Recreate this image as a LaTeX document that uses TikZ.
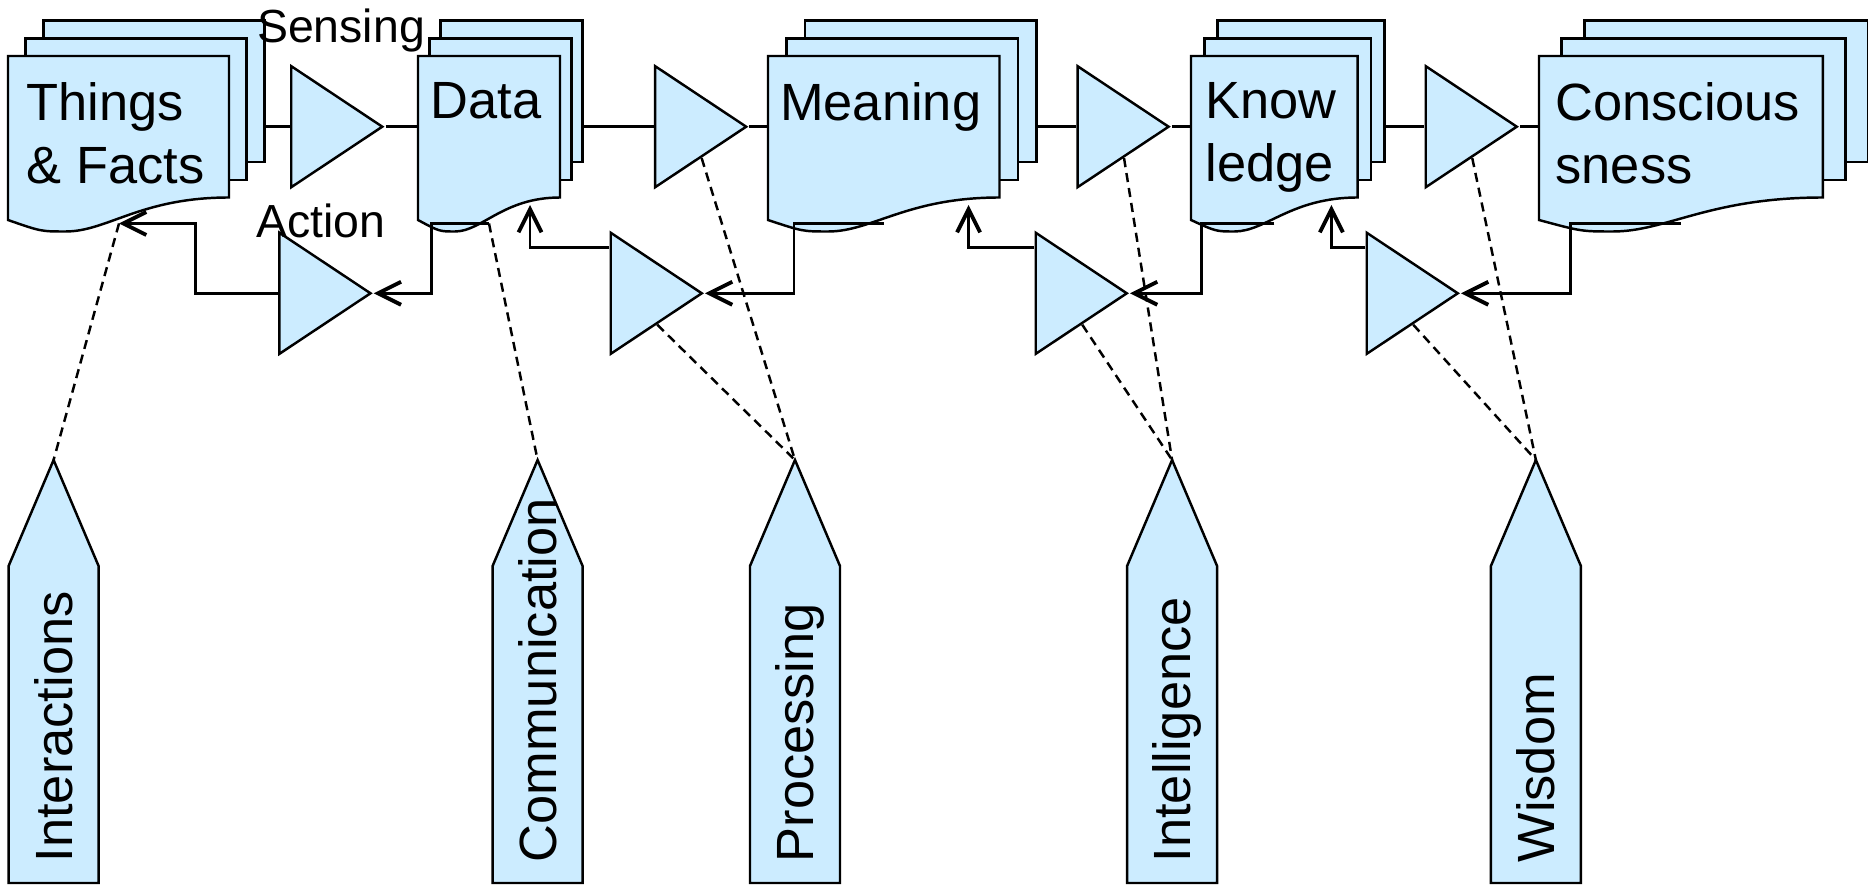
\documentclass[tikz,border=0pt]{standalone}
\usepackage{fontspec}
\setmainfont{Liberation Sans}
\usetikzlibrary{shapes.geometric,arrows.meta,calc}
\definecolor{docblue}{RGB}{204,236,255}

\begin{document}
\begin{tikzpicture}
[
x=0.01cm, y=-0.01cm,
Page/.style={draw=black, fill=docblue, line width=0.7pt},
Amp/.style={isosceles triangle, isosceles triangle stretches, draw=black, fill=docblue, line width=0.7pt, minimum height=0.91cm, minimum width=1.21cm, inner sep=0pt, anchor=apex},
Wire/.style={draw=black, line width=0.7pt},
Feed/.style={Wire, -{Straight Barb[length=2.3mm, width=2.3mm, line width=1.1pt]}},
Link/.style={Wire, dash pattern=on 2.6pt off 1.7pt},
Title/.style={font=\fontsize{14.9}{18}\selectfont, align=left, anchor=north, inner sep=0pt},
Small/.style={font=\fontsize{13.2}{16}\selectfont, anchor=base, inner sep=0pt},
Vertical/.style={font=\fontsize{14.9}{18}\selectfont, rotate=90, anchor=west, inner sep=0pt, text height=0.375cm, text depth=0pt}
]

\useasboundingbox (0,0) rectangle (1868,885);

\draw[Page] (43.4,20.6) rectangle (264.4,162.1);
\draw[Page] (25.7,38.3) rectangle (246.7,179.8);
\draw[Page] (8,56) -- (229,56) -- (229,197.5) .. controls (140.6,197.5) and (107.5,231.5) .. (65.5,231.5) .. controls (41,231.5) .. (8,220) -- cycle;

\draw[Page] (440.7,20.6) rectangle (582.7,162.1);
\draw[Page] (429.4,38.3) rectangle (571.4,179.8);
\draw[Page] (418,56) -- (560,56) -- (560,197.5) .. controls (503.2,197.5) and (481.9,231.5) .. (454.9,231.5) .. controls (439.3,231.5) .. (418,220) -- cycle;

\draw[Page] (805,20.6) rectangle (1036.5,162.1);
\draw[Page] (786.5,38.3) rectangle (1018,179.8);
\draw[Page] (768,56) -- (999.5,56) -- (999.5,197.5) .. controls (906.9,197.5) and (872.2,231.5) .. (828.2,231.5) .. controls (802.7,231.5) .. (768,220) -- cycle;

\draw[Page] (1217.6,20.6) rectangle (1384.3,162.1);
\draw[Page] (1204.3,38.3) rectangle (1371,179.8);
\draw[Page] (1191,56) -- (1357.7,56) -- (1357.7,197.5) .. controls (1291,197.5) and (1266,231.5) .. (1234.3,231.5) .. controls (1216,231.5) .. (1191,220) -- cycle;

\draw[Page] (1584.4,20.6) rectangle (1868.2,162.1);
\draw[Page] (1561.7,38.3) rectangle (1845.5,179.8);
\draw[Page] (1539,56) -- (1822.8,56) -- (1822.8,197.5) .. controls (1709.3,197.5) and (1666.7,231.5) .. (1612.8,231.5) .. controls (1581.6,231.5) .. (1539,220) -- cycle;

\node[Title] (things) at (115.5,81.5) {Things\\\& Facts};
\node[Title] (data) at (486,81.5) {Data};
\node[Title] (meaning) at (880.7,81.5) {Meaning};
\node[Title] (knowledge) at (1271.3,81.5) {Know\\ledge};
\node[Title] (consciousness) at (1677.9,81.5) {Conscious\\sness};

\coordinate (thingsOut) at (264.4,126.7);
\coordinate (thingsG) at (119,223.5);
\coordinate (dataIn) at (418,126.7);
\coordinate (dataOut) at (582.7,126.7);
\coordinate (dataG) at (489,223.5);
\coordinate (dataUp) at (530,205);
\coordinate (meaningIn) at (768,126.7);
\coordinate (meaningOut) at (1036.5,126.7);
\coordinate (meaningG) at (883.7,223.5);
\coordinate (meaningUp) at (968.6,205);
\coordinate (knowledgeIn) at (1191,126.7);
\coordinate (knowledgeOut) at (1384.3,126.7);
\coordinate (knowledgeG) at (1274.3,223.5);
\coordinate (knowledgeUp) at (1331.4,205);
\coordinate (consciousnessIn) at (1539,126.7);
\coordinate (consciousnessG) at (1680.9,223.5);

\coordinate (interTip) at (53.6,460);
\coordinate (commTip) at (537.6,460);
\coordinate (procTip) at (795,460);
\coordinate (intelTip) at (1172.1,460);
\coordinate (wisTip) at (1535.9,460);

\draw[Page] (interTip) -- ++(45,106) -- ++(0,317) -- ++(-90,0) -- ++(0,-317) -- cycle;
\draw[Page] (commTip) -- ++(45,106) -- ++(0,317) -- ++(-90,0) -- ++(0,-317) -- cycle;
\draw[Page] (procTip) -- ++(45,106) -- ++(0,317) -- ++(-90,0) -- ++(0,-317) -- cycle;
\draw[Page] (intelTip) -- ++(45,106) -- ++(0,317) -- ++(-90,0) -- ++(0,-317) -- cycle;
\draw[Page] (wisTip) -- ++(45,106) -- ++(0,317) -- ++(-90,0) -- ++(0,-317) -- cycle;

\node[Amp] (sense) at (385.5,126.7) {};
\node[Amp] (up2) at (749.4,126.7) {};
\node[Amp] (up3) at (1171.8,126.7) {};
\node[Amp] (up4) at (1520,126.7) {};
\node[Amp] (act) at (373.7,293.3) {};
\node[Amp] (down2) at (705,293.3) {};
\node[Amp] (down3) at (1130,293.3) {};
\node[Amp] (down4) at (1461,293.3) {};

\draw[Wire] (thingsOut) -- (sense.west);
\draw[Wire] (sense.apex) -- (dataIn);
\draw[Wire] (dataOut) -- (up2.west);
\draw[Wire] (up2.apex) -- (meaningIn);
\draw[Wire] (meaningOut) -- (up3.west);
\draw[Wire] (up3.apex) -- (knowledgeIn);
\draw[Wire] (knowledgeOut) -- (up4.west);
\draw[Wire] (up4.apex) -- (consciousnessIn);

\draw[Feed] (act.west) -- ++(-82.7,0) |- (thingsG);
\draw[Feed] (dataG) -- ++(-57.5,0) |- (act.apex);
\draw[Feed] ($(down2.west)+(0,-46)$) -| (dataUp);
\draw[Feed] (meaningG) -- ++(-89.5,0) |- (down2.apex);
\draw[Feed] ($(down3.west)+(0,-46)$) -| (meaningUp);
\draw[Feed] (knowledgeG) -- ++(-72.6,0) |- (down3.apex);
\draw[Feed] ($(down4.west)+(0,-46)$) -| (knowledgeUp);
\draw[Feed] (consciousnessG) -- ++(-110.2,0) |- (down4.apex);

\draw[Link] (thingsG) -- (interTip);
\draw[Link] (dataG) -- (commTip);
\draw[Link] (up2.right side) -- (procTip);
\draw[Link] (down2.right side) -- (procTip);
\draw[Link] (up3.right side) -- (intelTip);
\draw[Link] (down3.right side) -- (intelTip);
\draw[Link] (up4.right side) -- (wisTip);
\draw[Link] (down4.right side) -- (wisTip);

\node[Small] (sensing) at (341,42.7) {Sensing};
\node[Small] (action) at (321,237.3) {Action};

\node[Vertical] (inter) at (53.6,863) {Interactions};
\node[Vertical] (comm) at (537.6,863) {Communication};
\node[Vertical] (proc) at (795,863) {Processing};
\node[Vertical] (intel) at (1172.1,863) {Intelligence};
\node[Vertical] (wis) at (1535.9,863) {Wisdom};
\end{tikzpicture}
\end{document}
